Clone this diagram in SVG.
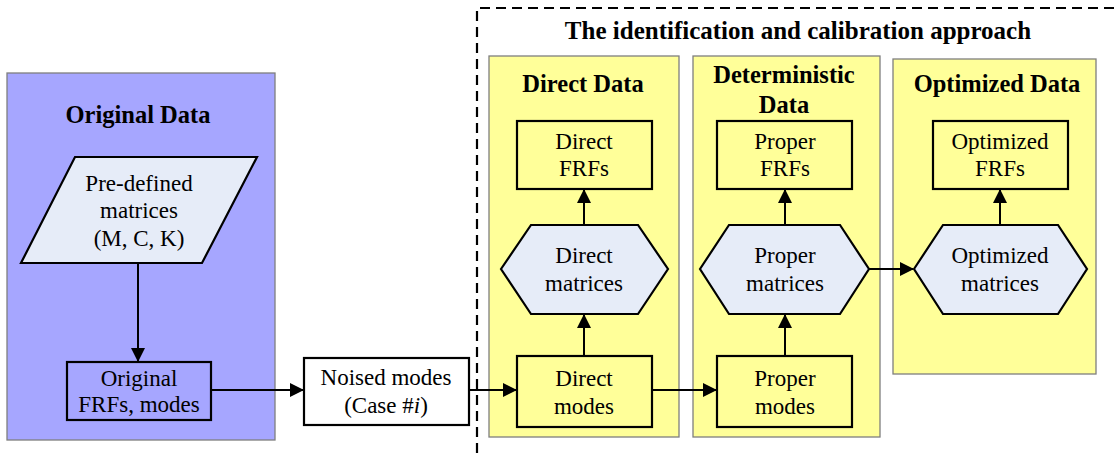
<svg xmlns="http://www.w3.org/2000/svg" width="1115" height="459" viewBox="0 0 1115 459">
<style>
text{font-family:"Liberation Serif","Times New Roman",serif;fill:#000;text-anchor:middle}
.t{font-size:23px}
.h{font-size:24.5px;font-weight:bold}
.panel{stroke:#7f7f7f;stroke-width:1.3}
.blue{fill:#a6a6ff}
.yel{fill:#ffff99}
.box{stroke:#000;stroke-width:2.2}
.shape{fill:#e6ecf8;stroke:#000;stroke-width:2.2}
.c{fill:none;stroke:#000;stroke-width:2}
</style>
<defs>
<marker id="ah" markerWidth="14" markerHeight="14" refX="13" refY="7" orient="auto" markerUnits="userSpaceOnUse" viewBox="0 0 14 14">
<path d="M0,0 L14,7 L0,14 Z" fill="#000"/>
</marker>
</defs>
<g id="approach">
<path d="M477,453 V8 H1115" fill="none" stroke="#000" stroke-width="2.2" stroke-dasharray="10,6"/>
<text class="h" x="798" y="39" style="font-size:25px">The identification and calibration approach</text>
</g>
<g id="panel-original">
<rect class="panel blue" x="7" y="73" width="268" height="367"/>
<text class="h" x="138" y="123">Original Data</text>
</g>
<g id="panel-direct">
<rect class="panel yel" x="489" y="56" width="190" height="381"/>
<text class="h" x="583" y="92">Direct Data</text>
</g>
<g id="panel-deterministic">
<rect class="panel yel" x="693" y="56" width="187" height="381"/>
<text class="h" x="784" y="83">Deterministic</text>
<text class="h" x="784" y="113">Data</text>
</g>
<g id="panel-optimized">
<rect class="panel yel" x="893" y="59" width="203" height="315"/>
<text class="h" x="997" y="92">Optimized Data</text>
</g>
<g id="predefined">
<polygon class="shape" points="75,157 257,157 202,263 21,263"/>
<text class="t" x="139" y="191">Pre-defined</text>
<text class="t" x="139" y="218">matrices</text>
<text class="t" x="139" y="246">(M, C, K)</text>
</g>
<g id="original-frfs">
<rect class="box blue" x="67" y="362" width="144" height="58"/>
<text class="t" x="139" y="386">Original</text>
<text class="t" x="139" y="412">FRFs, modes</text>
</g>
<g id="noised">
<rect class="box" fill="#fff" x="304" y="358" width="165" height="67"/>
<text class="t" x="386" y="385">Noised modes</text>
<text class="t" x="386" y="413">(Case #<tspan font-style="italic">i</tspan>)</text>
</g>
<g id="direct-frfs">
<rect class="box yel" x="517" y="121" width="135" height="68"/>
<text class="t" x="584" y="149">Direct</text>
<text class="t" x="584" y="176">FRFs</text>
</g>
<g id="direct-matrices">
<polygon class="shape" points="501,269 531,225 638,225 668,269 638,314 531,314"/>
<text class="t" x="584" y="263">Direct</text>
<text class="t" x="584" y="291">matrices</text>
</g>
<g id="direct-modes">
<rect class="box yel" x="517" y="356" width="135" height="71"/>
<text class="t" x="584" y="386">Direct</text>
<text class="t" x="584" y="414">modes</text>
</g>
<g id="proper-frfs">
<rect class="box yel" x="717" y="121" width="135" height="68"/>
<text class="t" x="785" y="149">Proper</text>
<text class="t" x="785" y="176">FRFs</text>
</g>
<g id="proper-matrices">
<polygon class="shape" points="700,269 729,225 840,225 869,269 840,314 729,314"/>
<text class="t" x="785" y="263">Proper</text>
<text class="t" x="785" y="291">matrices</text>
</g>
<g id="proper-modes">
<rect class="box yel" x="717" y="356" width="135" height="71"/>
<text class="t" x="785" y="386">Proper</text>
<text class="t" x="785" y="414">modes</text>
</g>
<g id="optimized-frfs">
<rect class="box yel" x="933" y="121" width="135" height="68"/>
<text class="t" x="1000" y="149">Optimized</text>
<text class="t" x="1000" y="176">FRFs</text>
</g>
<g id="optimized-matrices">
<polygon class="shape" points="914,269 943,225 1058,225 1087,269 1058,314 943,314"/>
<text class="t" x="1000" y="263">Optimized</text>
<text class="t" x="1000" y="291">matrices</text>
</g>
<g id="connectors">
<path class="c" d="M138,263 V361" marker-end="url(#ah)"/>
<path class="c" d="M211,390 H303" marker-end="url(#ah)"/>
<path class="c" d="M469,390 H516" marker-end="url(#ah)"/>
<path class="c" d="M584,356 V315" marker-end="url(#ah)"/>
<path class="c" d="M584,225 V190" marker-end="url(#ah)"/>
<path class="c" d="M652,390 H716" marker-end="url(#ah)"/>
<path class="c" d="M785,356 V315" marker-end="url(#ah)"/>
<path class="c" d="M785,225 V190" marker-end="url(#ah)"/>
<path class="c" d="M869,269 H913" marker-end="url(#ah)"/>
<path class="c" d="M1000,225 V190" marker-end="url(#ah)"/>
</g>
</svg>
